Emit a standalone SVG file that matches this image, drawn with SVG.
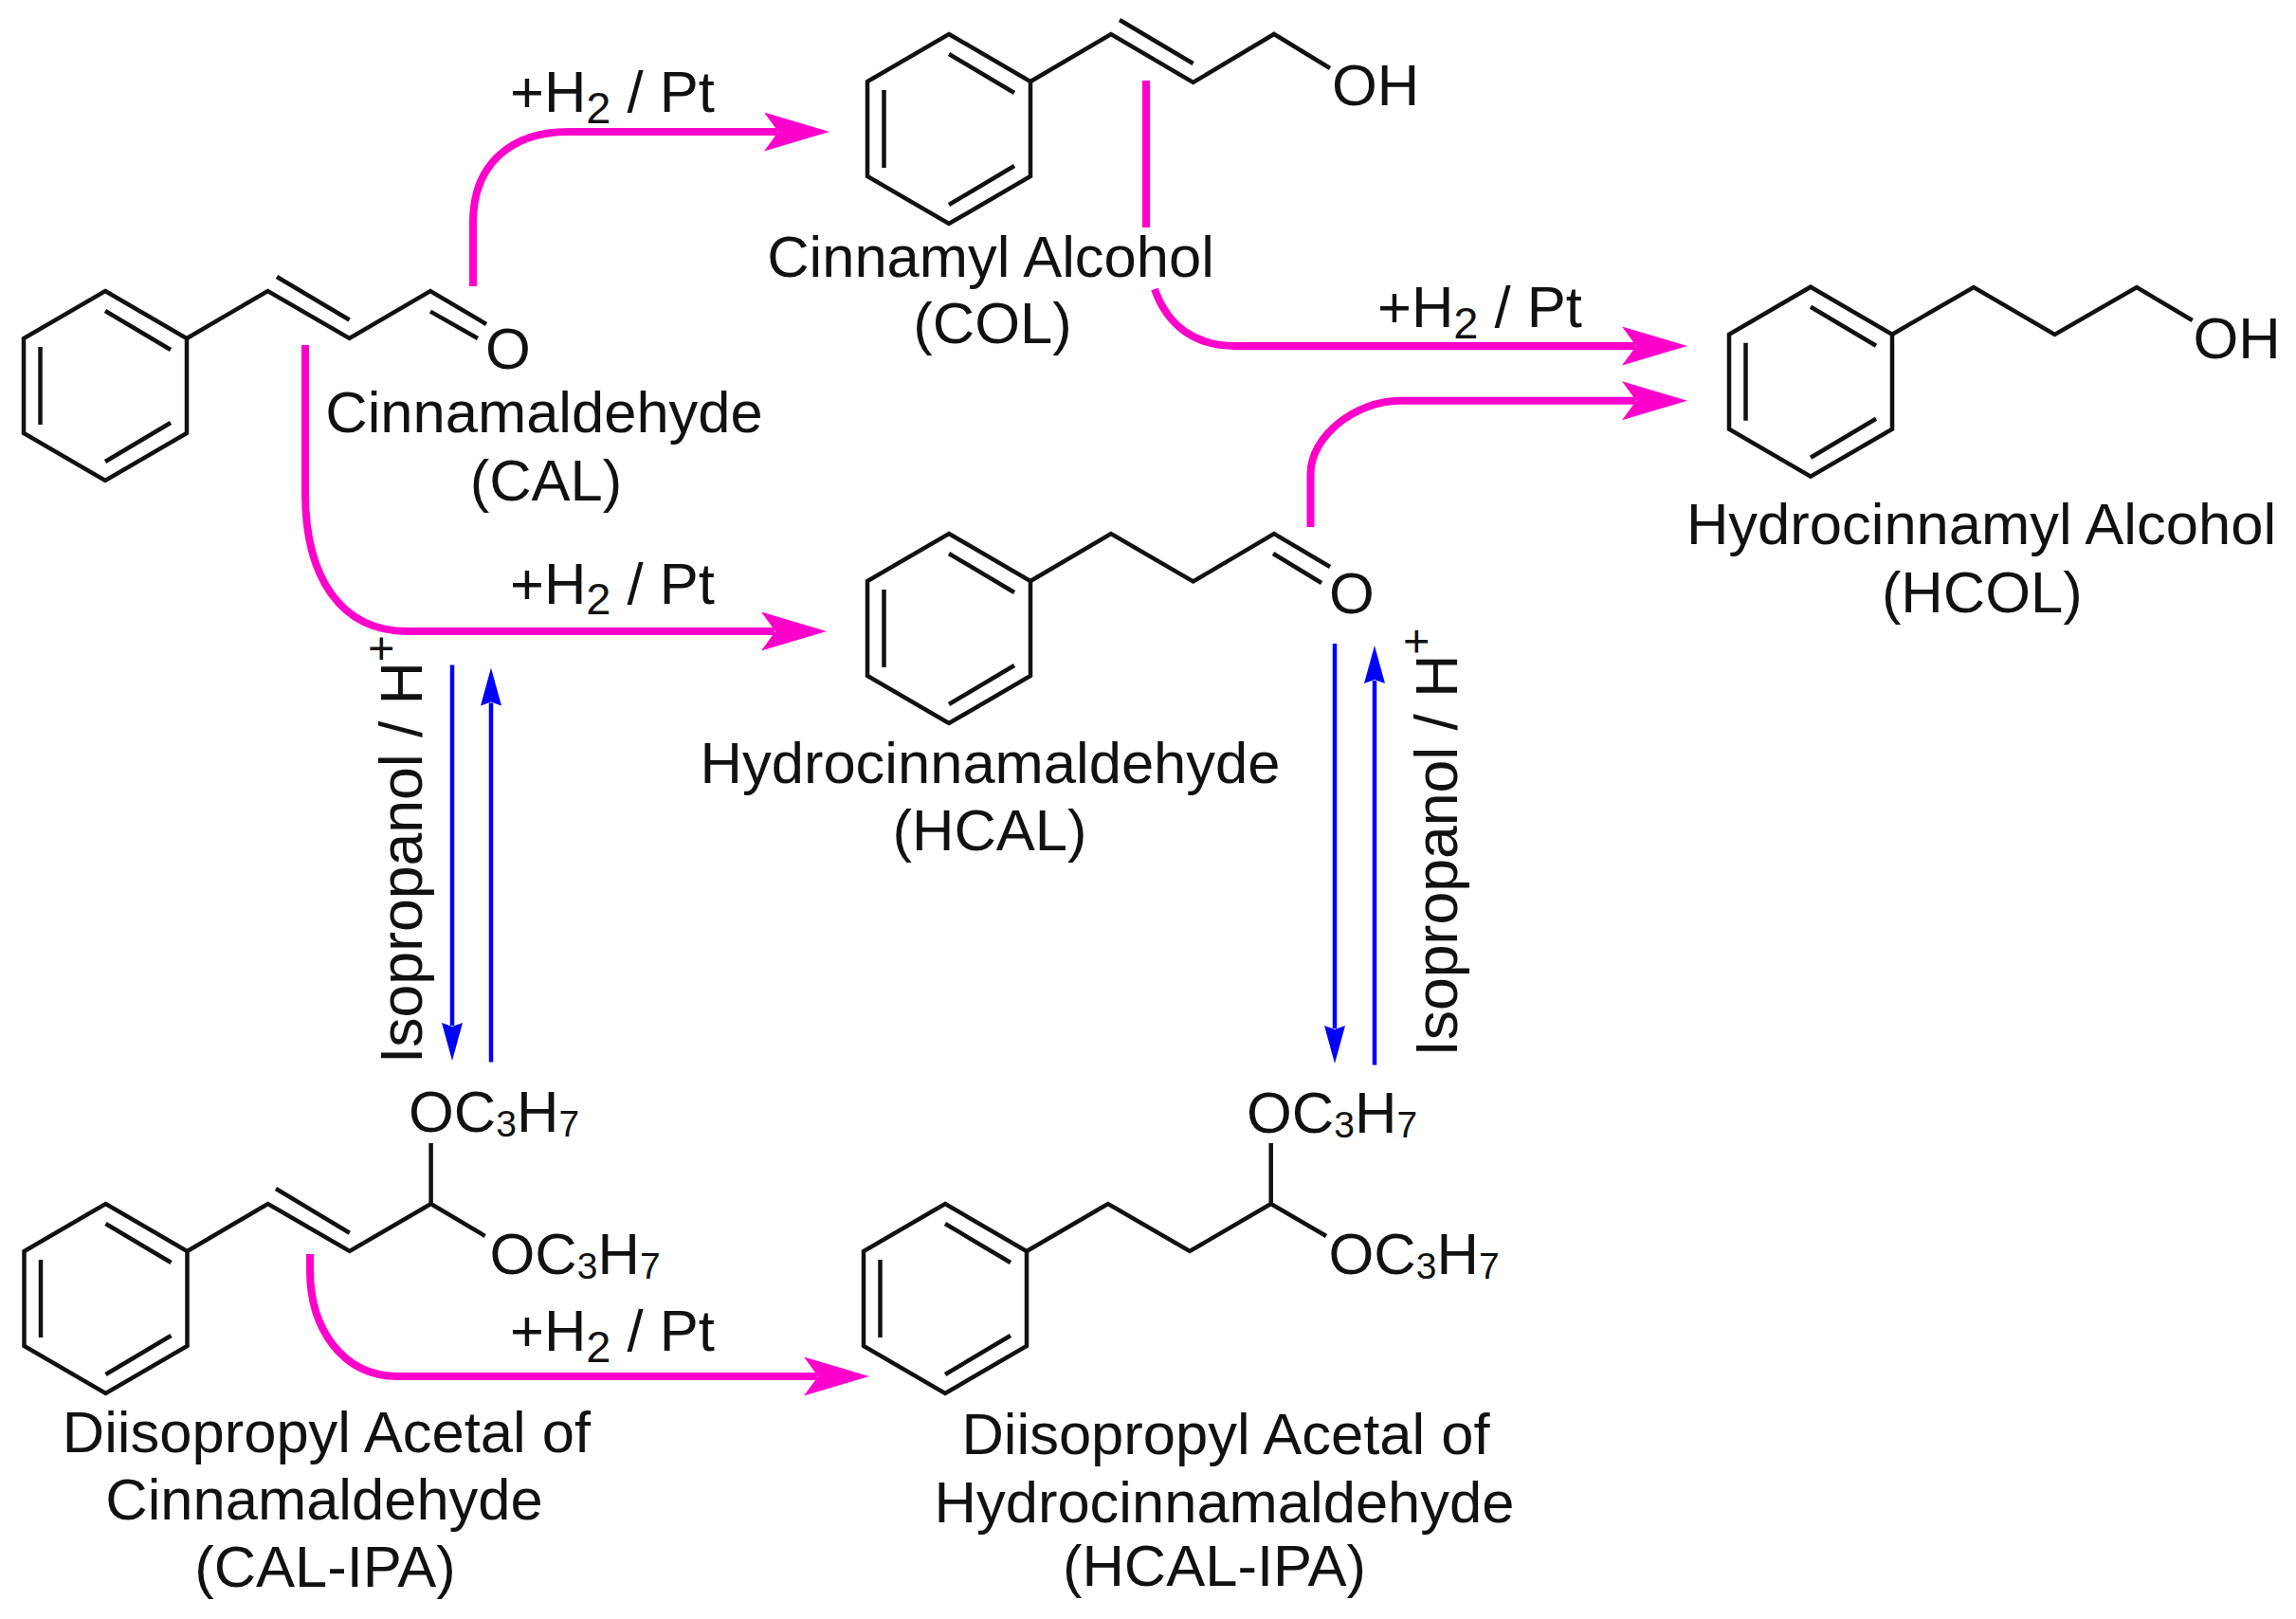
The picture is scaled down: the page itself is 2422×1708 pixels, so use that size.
<svg xmlns="http://www.w3.org/2000/svg" xmlns:xlink="http://www.w3.org/1999/xlink" width="2422" height="1708" viewBox="0 0 2422 1708">
<style>
.t{font-family:"Liberation Sans",Arial,sans-serif;font-size:61.5px;fill:#111}
.m{text-anchor:middle}
.s2{font-size:47px}
.s3{font-size:39px}
.sup{font-size:48px}
.b{fill:none;stroke:#111;stroke-width:4.5}
.p{fill:none;stroke:#ff00cc;stroke-width:8}
.u{fill:none;stroke:#0000ff;stroke-width:4.5}
</style>
<defs>
<marker id="mag" markerUnits="userSpaceOnUse" markerWidth="69" markerHeight="41" viewBox="0 0 69 41" refX="14" refY="20.5" orient="auto"><path d="M0 0L69 20.5L0 41L15 20.5Z" fill="#ff00cc"/></marker>
<marker id="blu" markerUnits="userSpaceOnUse" markerWidth="40" markerHeight="22" viewBox="0 0 40 22" refX="3" refY="11" orient="auto"><path d="M0 0L40 11L0 22L4 11Z" fill="#0000ff"/></marker>
<g id="ring"><path class="b" d="M0 0L86 50V150L0 200L-86 150V50Z"/><path class="b" d="M-68.500 59V141M0 21L69 62M0 180L69 139"/></g>
</defs>
<rect width="2422" height="1708" fill="#fff"/>
<g id="connectors">
<path class="p" marker-end="url(#mag)" d="M499 302V235C499 172 540 139 600 139H820"/>
<path class="p" d="M1209 85V240"/>
<path class="p" marker-end="url(#mag)" d="M1218 305C1232 345 1262 365 1303 365H1725"/>
<path class="p" marker-end="url(#mag)" d="M1382.500 556V500C1382.500 460 1430 422.700 1477 422.700H1725"/>
<path class="p" marker-end="url(#mag)" d="M322 364V520C322 610 360 666 430 666H817"/>
<path class="p" marker-end="url(#mag)" d="M327 1323V1340C327 1400 360 1452 420 1452H862"/>
<path class="u" marker-end="url(#blu)" d="M477 701.600V1082"/>
<path class="u" marker-end="url(#blu)" d="M518 1120.600V741.500"/>
<path class="u" marker-end="url(#blu)" d="M1408 679V1085"/>
<path class="u" marker-end="url(#blu)" d="M1450 1123.500V718"/>
</g>
<g id="label-rxn1"><text class="t" x="538" y="118">+H<tspan class="s2" dy="11.500">2</tspan><tspan dy="-11.500"> / Pt</tspan></text></g>
<g id="label-rxn2"><text class="t" x="538" y="636.500">+H<tspan class="s2" dy="11.500">2</tspan><tspan dy="-11.500"> / Pt</tspan></text></g>
<g id="label-rxn3"><text class="t" x="1453" y="345">+H<tspan class="s2" dy="11.500">2</tspan><tspan dy="-11.500"> / Pt</tspan></text></g>
<g id="label-rxn4"><text class="t" x="538" y="1425">+H<tspan class="s2" dy="11.500">2</tspan><tspan dy="-11.500"> / Pt</tspan></text></g>
<g id="label-acetal1"><text class="t" x="445.300" y="1122" transform="rotate(-90 445.300 1122)" style="font-size:62.500px">Isopropanol / H<tspan class="sup" dy="-27">+</tspan></text></g>
<g id="label-acetal2"><text class="t" x="1536.700" y="1114.500" transform="rotate(-90 1536.700 1114.500)" style="font-size:62.500px">Isopropanol / H<tspan class="sup" dy="-27">+</tspan></text></g>
<g id="CAL">
<use href="#ring" xlink:href="#ring" x="111" y="307"/>
<path class="b" d="M197 357L282.500 307L368.600 357L454 307L513 342M292 292L368.600 337.500M454 328.600L504 357"/>
<text class="t m" x="536" y="389">O</text>
<text class="t m" x="574" y="456">Cinnamaldehyde</text>
<text class="t m" x="576" y="528">(CAL)</text>
</g>
<g id="COL">
<use href="#ring" xlink:href="#ring" x="1001" y="36"/>
<path class="b" d="M1087 86L1172 36L1258.600 87L1344 36L1403 72M1181 21L1258.600 67"/>
<text class="t" x="1405" y="111">OH</text>
<text class="t m" x="1045" y="291.700">Cinnamyl Alcohol</text>
<text class="t m" x="1047" y="362">(COL)</text>
</g>
<g id="HCOL">
<use href="#ring" xlink:href="#ring" x="1910" y="302.700"/>
<path class="b" d="M1996 352.700L2082 303L2167.500 353L2254 303L2312.700 338"/>
<text class="t" x="2313.500" y="378">OH</text>
<text class="t m" x="2090" y="574">Hydrocinnamyl Alcohol</text>
<text class="t m" x="2090.800" y="645.700">(HCOL)</text>
</g>
<g id="HCAL">
<use href="#ring" xlink:href="#ring" x="1001" y="563"/>
<path class="b" d="M1087 613L1172 563L1258.600 613.500L1344 563L1403 598M1343 584L1394 615"/>
<text class="t m" x="1426" y="646.700">O</text>
<text class="t m" x="1044.500" y="826">Hydrocinnamaldehyde</text>
<text class="t m" x="1044" y="896.700">(HCAL)</text>
</g>
<g id="CAL-IPA">
<use href="#ring" xlink:href="#ring" x="111.500" y="1270"/>
<path class="b" d="M197.500 1320L282.600 1270L368.800 1320L454.600 1270L511.700 1304M291 1254L368.800 1300.700M454.600 1270V1206"/>
<text class="t" x="431" y="1194">OC<tspan class="s3" dy="5">3</tspan><tspan dy="-5">H</tspan><tspan class="s3" dy="5">7</tspan></text>
<text class="t" x="516.500" y="1344">OC<tspan class="s3" dy="5">3</tspan><tspan dy="-5">H</tspan><tspan class="s3" dy="5">7</tspan></text>
<text class="t m" x="344.400" y="1532">Diisopropyl Acetal of</text>
<text class="t m" x="342" y="1602.700">Cinnamaldehyde</text>
<text class="t m" x="343" y="1674">(CAL-IPA)</text>
</g>
<g id="HCAL-IPA">
<use href="#ring" xlink:href="#ring" x="997" y="1270"/>
<path class="b" d="M1083 1320L1168.800 1270L1255 1320L1340.700 1270L1399 1304M1340.700 1270V1206"/>
<text class="t" x="1315" y="1195">OC<tspan class="s3" dy="5">3</tspan><tspan dy="-5">H</tspan><tspan class="s3" dy="5">7</tspan></text>
<text class="t" x="1401.500" y="1344">OC<tspan class="s3" dy="5">3</tspan><tspan dy="-5">H</tspan><tspan class="s3" dy="5">7</tspan></text>
<text class="t m" x="1293" y="1534">Diisopropyl Acetal of</text>
<text class="t m" x="1291.500" y="1605.700">Hydrocinnamaldehyde</text>
<text class="t m" x="1281" y="1673">(HCAL-IPA)</text>
</g>
</svg>
